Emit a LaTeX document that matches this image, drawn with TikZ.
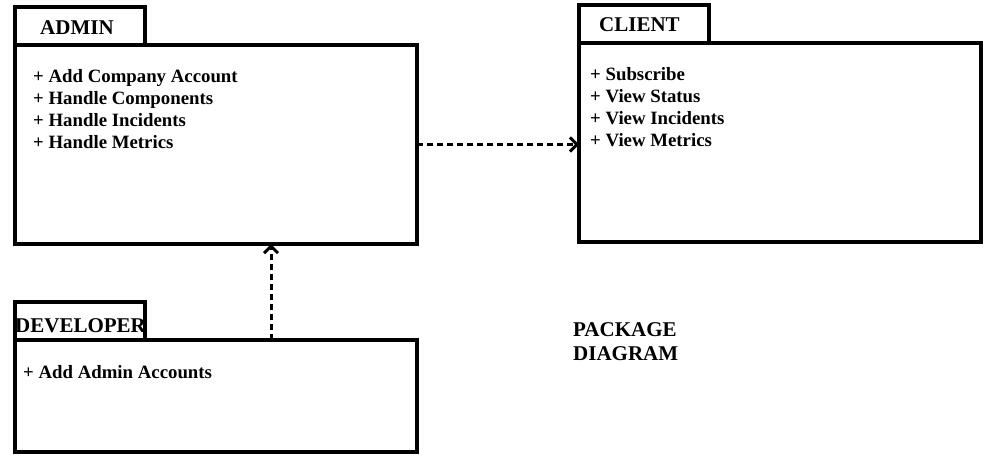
\documentclass[tikz,border=0pt]{standalone}
\usepackage{fontspec}
\setmainfont{Liberation Serif}
\usetikzlibrary{arrows.meta, positioning}

\tikzset{
  pkg/.style = {draw, line width=3.2pt, inner sep=0pt, outer sep=0pt, anchor=north west},
  pkgtitle/.style = {font=\fontsize{21}{24}\selectfont\bfseries, inner sep=0pt, anchor=base west},
  pkgitem/.style = {font=\fontsize{18.8}{22}\selectfont\bfseries, inner sep=0pt, anchor=base west},
  dep/.style = {line width=3pt, dash pattern=on 6pt off 4pt, -{Straight Barb[length=7pt,width=14pt]}}
}

\begin{document}
\begin{tikzpicture}[x=1pt, y=-1pt]
\useasboundingbox (0,0) rectangle (998,469);
% package bodies
\node[pkg, minimum width=402pt, minimum height=199pt] (admin) at (15,45) {};
\node[pkg, minimum width=402pt, minimum height=199pt] (client) at (579,43) {};
\node[pkg, minimum width=402pt, minimum height=112pt] (dev) at (15,340) {};
% tabs
\node[pkg, anchor=south west, minimum width=130pt, minimum height=38pt] (adminTab) at (admin.north west) {};
\node[pkg, anchor=south west, minimum width=130pt, minimum height=38pt] (clientTab) at (client.north west) {};
\node[pkg, anchor=south west, minimum width=130pt, minimum height=38pt] (devTab) at (dev.north west) {};
% names
\node[pkgtitle] (adminName) at (40,34) {ADMIN};
\node[pkgtitle] (clientName) at (599,31) {CLIENT};
\node[pkgtitle] (devName) at (15,332) {DEVELOPER};
% operations
\foreach \op [count=\i] in {Add Company Account, Handle Components, Handle Incidents, Handle Metrics}
  \node[pkgitem] (adminOp\i) at (33,60+22*\i) {+ \op};
\foreach \op [count=\i] in {Subscribe, View Status, View Incidents, View Metrics}
  \node[pkgitem] (clientOp\i) at (590,58+22*\i) {+ \op};
\node[pkgitem] (devOp1) at (23,378) {+ Add Admin Accounts};
% caption
\node[pkgtitle] (cap1) at (573,336) {PACKAGE};
\node[pkgtitle] (cap2) at (573,360) {DIAGRAM};
% dependencies
\draw[dep] (admin.east) -- (admin.east -| client.west);
\coordinate (devTop) at (271,340);
\draw[dep] (devTop) -- (devTop |- admin.south);
\end{tikzpicture}
\end{document}
